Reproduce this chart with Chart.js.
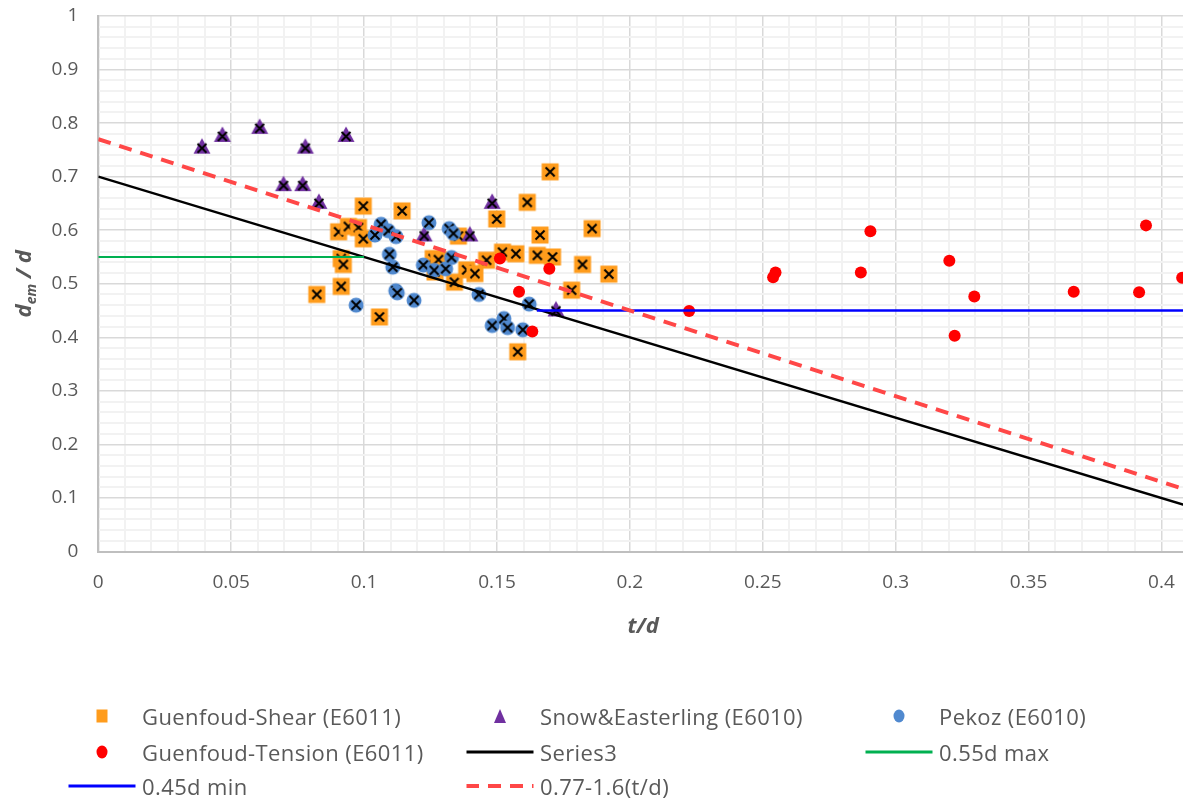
<!DOCTYPE html>
<html>
<head>
<meta charset="utf-8">
<script src="https://cdn.jsdelivr.net/npm/chart.js@4.4.1/dist/chart.umd.min.js"></script>
<style>
    html, body { margin: 0; padding: 0; background: #fff; }
    #wrap { position: relative; width: 1183px; height: 801px; overflow: hidden; }
    #grafico { position: absolute; left: 0; top: 0; }
    #legenda { position: absolute; left: 0; top: 0; width: 1183px; height: 801px; pointer-events: none;
               font-family: 'Open Sans', sans-serif; font-size: 22px; letter-spacing: 0.4px; color: #595959; }
    .item { position: absolute; height: 30px; display: flex; align-items: center; white-space: nowrap; }
    .simbolo { position: relative; width: 67px; height: 30px; margin-right: 7px; }
    .simbolo > div { position: absolute; left: 50%; top: 50%; transform: translate(-50%, -50%); }
</style>
</head>
<body>
<div id="wrap">
    <canvas id="grafico" width="1195" height="801"></canvas>
    <div id="legenda"></div>
</div>
<script>
        // Guenfoud-Shear (E6011)
        const shearT = [0.0997, 0.1143, 0.0904, 0.0941, 0.0979, 0.0997, 0.0914, 0.0922, 0.0914, 0.0822, 0.1058,
                        0.1355, 0.126, 0.128, 0.1267, 0.134, 0.1386, 0.1417, 0.170, 0.1614, 0.1499, 0.1858,
                        0.1662, 0.1521, 0.1571, 0.1652, 0.1709, 0.1461, 0.1822, 0.1921, 0.1781, 0.1578];
        const shearD = [0.645, 0.636, 0.597, 0.607, 0.605, 0.584, 0.547, 0.536, 0.495, 0.480, 0.438,
                        0.589, 0.547, 0.545, 0.522, 0.503, 0.526, 0.519, 0.709, 0.652, 0.621, 0.603,
                        0.591, 0.559, 0.556, 0.553, 0.550, 0.544, 0.536, 0.518, 0.488, 0.373];

        // Snow&Easterling (E6010)
        const snowT = [0.039, 0.0467, 0.0607, 0.0779, 0.0932, 0.0697, 0.0769, 0.083, 0.1226, 0.1398, 0.1482, 0.1722];
        const snowD = [0.756, 0.778, 0.793, 0.756, 0.778, 0.686, 0.686, 0.653, 0.592, 0.592, 0.653, 0.452];

        // Pekoz (E6010)
        const pekozT = [0.1064, 0.1041, 0.1091, 0.112, 0.1244, 0.132, 0.1336, 0.1095, 0.1108, 0.1223, 0.1264, 0.1307,
                        0.1329, 0.1119, 0.1125, 0.1188, 0.097, 0.1432, 0.1621, 0.1482, 0.1526, 0.154, 0.1597];
        const pekozD = [0.611, 0.591, 0.599, 0.588, 0.614, 0.603, 0.594, 0.555, 0.531, 0.535, 0.525, 0.528,
                        0.549, 0.487, 0.483, 0.469, 0.460, 0.480, 0.462, 0.422, 0.435, 0.418, 0.414];

        // Guenfoud-Tension (E6011)
        const tensionT = [0.1511, 0.1697, 0.1583, 0.1633, 0.2223, 0.2539, 0.2548, 0.2905, 0.2869, 0.3202, 0.3296,
                          0.3222, 0.3670, 0.3916, 0.3942, 0.4078];
        const tensionD = [0.547, 0.528, 0.485, 0.411, 0.449, 0.512, 0.521, 0.598, 0.521, 0.543, 0.476,
                          0.403, 0.485, 0.484, 0.609, 0.511];

        // linhas de referencia (pontos extremos)
        const series3T = [0, 0.41];
        const series3D = [0.7, 0.085];
        const maxT = [0, 0.1];
        const maxD = [0.55, 0.55];
        const minT = [0.165, 0.41];
        const minD = [0.45, 0.45];
        const limiteT = [0, 0.41];
        const limiteD = [0.77, 0.114];

        const fonte = "'Open Sans', sans-serif";
        const corTexto = '#595959';

        function pontos(xs, ys) {
            return xs.map((x, i) => ({ x: x, y: ys[i] }));
        }

        function ehMaior(v, passo) {
            return Math.abs(v / passo - Math.round(v / passo)) < 1e-6;
        }

        function formatar(v) {
            return String(Math.round(v * 100) / 100);
        }

        // marcador com o X preto por cima
        function criarIcone(forma, cor, comX) {
            const c = document.createElement('canvas');
            c.width = 20; c.height = 20;
            const g = c.getContext('2d');
            g.fillStyle = cor;
            let cy = 10;
            if (forma === 'quadrado') {
                g.fillRect(1.5, 1.5, 17, 17);
            } else if (forma === 'triangulo') {
                g.beginPath(); g.moveTo(10, 1.5); g.lineTo(18.5, 17); g.lineTo(1.5, 17); g.closePath(); g.fill();
                cy = 11.5;
            } else {
                g.beginPath(); g.arc(10, 10, 7.5, 0, 2 * Math.PI); g.fill();
            }
            if (comX) {
                g.strokeStyle = '#000'; g.lineWidth = 2;
                g.beginPath();
                g.moveTo(5.5, cy - 4.5); g.lineTo(14.5, cy + 4.5);
                g.moveTo(14.5, cy - 4.5); g.lineTo(5.5, cy + 4.5);
                g.stroke();
            }
            return c;
        }

        const datasets = [
            { label: 'Guenfoud-Shear (E6011)', data: pontos(shearT, shearD), pointStyle: criarIcone('quadrado', '#ff9c1c', true),
              order: 8, leg: { tipo: 'quadrado', cor: '#ff9c1c' } },
            { label: 'Snow&Easterling (E6010)', data: pontos(snowT, snowD), pointStyle: criarIcone('triangulo', '#7030a0', true),
              order: 7, leg: { tipo: 'triangulo', cor: '#7030a0' } },
            { label: 'Pekoz (E6010)', data: pontos(pekozT, pekozD), pointStyle: criarIcone('circulo', '#5089cf', true),
              order: 6, leg: { tipo: 'circulo', cor: '#5089cf' } },
            { label: 'Guenfoud-Tension (E6011)', data: pontos(tensionT, tensionD), pointStyle: 'circle', pointRadius: 6,
              backgroundColor: '#ff0000', borderColor: '#ff0000', borderWidth: 0, order: 5, leg: { tipo: 'circulo', cor: '#ff0000' } },
            { label: 'Series3', data: pontos(series3T, series3D), showLine: true, pointRadius: 0, borderColor: '#000000',
              borderWidth: 2.5, order: 4, leg: { tipo: 'linha', cor: '#000000' } },
            { label: '0.55d max', data: pontos(maxT, maxD), showLine: true, pointRadius: 0, borderColor: '#00b050',
              borderWidth: 2, order: 3, leg: { tipo: 'linha', cor: '#00b050' } },
            { label: '0.45d min', data: pontos(minT, minD), showLine: true, pointRadius: 0, borderColor: '#0000ff',
              borderWidth: 2.5, order: 2, leg: { tipo: 'linha', cor: '#0000ff' } },
            { label: '0.77-1.6(t/d)', data: pontos(limiteT, limiteD), showLine: true, pointRadius: 0, borderColor: '#ff4747',
              borderWidth: 4, borderDash: [13, 9], order: 1, leg: { tipo: 'tracejado', cor: '#ff4747' } }
        ];

        const titulosEixos = {
            id: 'titulosEixos',
            afterDraw(chart) {
                const { ctx, chartArea } = chart;
                ctx.save();
                ctx.fillStyle = corTexto;
                ctx.font = "italic bold 22px " + fonte;
                ctx.textAlign = 'center';
                ctx.textBaseline = 'middle';
                ctx.fillText('t/d', (chartArea.left + chartArea.right) / 2, 627);

                // titulo do eixo y com subscrito
                ctx.translate(31, (chartArea.top + chartArea.bottom) / 2);
                ctx.rotate(-Math.PI / 2);
                ctx.textAlign = 'left';
                ctx.textBaseline = 'alphabetic';
                const grande = "italic bold 22px " + fonte;
                const pequeno = "italic bold 14px " + fonte;
                ctx.font = grande; const w1 = ctx.measureText('d').width;
                ctx.font = pequeno; const w2 = ctx.measureText('em').width;
                ctx.font = grande; const w3 = ctx.measureText(' / d').width;
                let x = -(w1 + w2 + w3) / 2;
                ctx.font = grande; ctx.fillText('d', x, 0); x += w1;
                ctx.font = pequeno; ctx.fillText('em', x, 5); x += w2;
                ctx.font = grande; ctx.fillText(' / d', x, 0);
                ctx.restore();
            }
        };

        function grade(passoMaior) {
            return {
                drawTicks: false,
                color: (c) => (c.tick && ehMaior(c.tick.value, passoMaior)) ? '#d9d9d9' : '#f2f2f2',
                lineWidth: (c) => (c.tick && ehMaior(c.tick.value, passoMaior)) ? 1.5 : 2
            };
        }

        function semPadding(s) {
            s.paddingLeft = 0; s.paddingRight = 0; s.paddingTop = 0; s.paddingBottom = 0;
        }

        const ctx = document.getElementById('grafico').getContext('2d');
        const grafico = new Chart(ctx, {
            type: 'scatter',
            data: { datasets: datasets },
            options: {
                responsive: false,
                animation: false,
                devicePixelRatio: 1,
                layout: { autoPadding: false, padding: { left: 0, top: 16, right: 7, bottom: 0 } },
                plugins: { legend: { display: false }, tooltip: { enabled: false } },
                scales: {
                    x: {
                        type: 'linear', min: 0, max: 0.41,
                        afterFit: (s) => { s.height = 801 - 551.5; semPadding(s); },
                        border: { color: '#bfbfbf', width: 2 },
                        grid: grade(0.05),
                        ticks: {
                            stepSize: 0.01, maxTicksLimit: 100, autoSkip: false, maxRotation: 0, includeBounds: false,
                            padding: 20, color: corTexto, font: { family: fonte, size: 19 },
                            callback: (v) => ehMaior(v, 0.05) ? formatar(v) : ''
                        }
                    },
                    y: {
                        type: 'linear', min: 0, max: 1,
                        afterFit: (s) => { s.width = 98.3; semPadding(s); },
                        border: { color: '#bfbfbf', width: 2 },
                        grid: grade(0.1),
                        ticks: {
                            stepSize: 0.02, maxTicksLimit: 100, autoSkip: false, padding: 20,
                            color: corTexto, font: { family: fonte, size: 19 },
                            callback: (v) => ehMaior(v, 0.1) ? formatar(v) : ''
                        }
                    }
                }
            },
            plugins: [titulosEixos]
        });

        // legenda em grade de 3 colunas, como no original
        const colunas = [68, 466, 865];
        const linhas = [716, 752, 786];
        const legenda = document.getElementById('legenda');
        grafico.data.datasets.forEach((ds, i) => {
            const item = document.createElement('div');
            item.className = 'item';
            item.style.left = colunas[i % 3] + 'px';
            item.style.top = (linhas[Math.floor(i / 3)] - 15) + 'px';
            const simb = document.createElement('div');
            simb.className = 'simbolo';
            const m = document.createElement('div');
            const cor = ds.leg.cor;
            if (ds.leg.tipo === 'quadrado') {
                m.style.cssText += `width:11px;height:13px;background:${cor};`;
            } else if (ds.leg.tipo === 'triangulo') {
                m.style.cssText += `width:0;height:0;border-left:6px solid transparent;border-right:6px solid transparent;border-bottom:14px solid ${cor};`;
            } else if (ds.leg.tipo === 'circulo') {
                m.style.cssText += `width:11px;height:13px;border-radius:50%;background:${cor};`;
            } else if (ds.leg.tipo === 'linha') {
                m.style.cssText += `width:67px;height:3px;background:${cor};`;
            } else {
                m.style.cssText += `width:67px;height:4px;background:repeating-linear-gradient(to right, ${cor} 0 13px, transparent 13px 22px);`;
            }
            simb.appendChild(m);
            const txt = document.createElement('span');
            txt.textContent = ds.label;
            item.appendChild(simb);
            item.appendChild(txt);
            legenda.appendChild(item);
        });
</script>
</body>
</html>
